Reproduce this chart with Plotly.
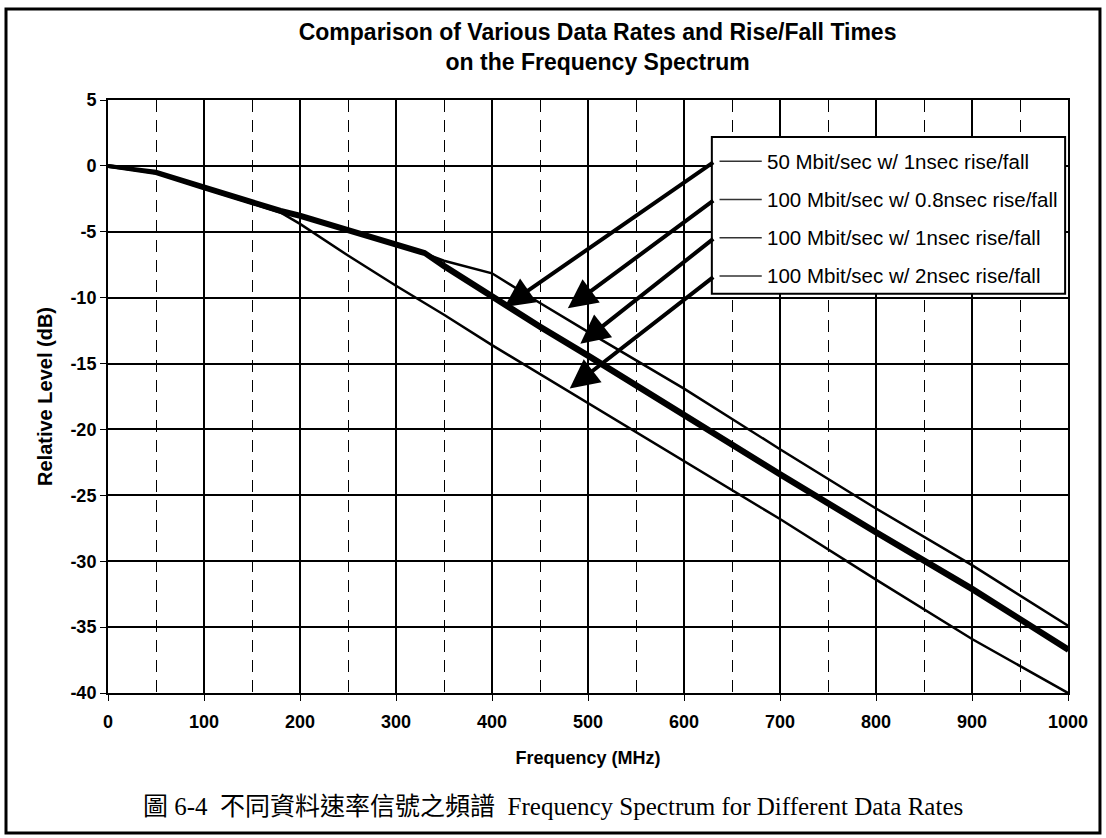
import plotly.graph_objects as go

############################# DATA ##############################################

freq_MHz = [0, 50, 100, 150, 180, 200, 250, 300, 330, 350, 400, 450, 500, 600, 700, 800, 900, 1000]

level_50M_1ns = [0, -0.45, -1.55, -2.7, -3.35, -3.7, -4.8, -5.85, -6.55, -7.5, -9.8, -12.1, -14.3, -18.8, -23.3, -27.7, -32.0, -36.6]
level_100M_08ns = [0, -0.5, -1.65, -2.8, -3.45, -3.8, -4.9, -5.95, -6.65, -7.2, -8.15, -10.4, -12.6, -16.9, -21.5, -26.0, -30.3, -34.9]
level_100M_1ns = [0, -0.55, -1.7, -2.85, -3.5, -3.86, -4.95, -6.0, -6.7, -7.7, -10.0, -12.3, -14.5, -19.0, -23.5, -27.9, -32.2, -36.8]
level_100M_2ns = [0, -0.55, -1.7, -2.85, -3.55, -4.4, -6.8, -9.1, -10.4, -11.3, -13.6, -15.8, -18.0, -22.4, -26.8, -31.4, -35.9, -40.0]

series_labels = [
    "50 Mbit/sec w/ 1nsec rise/fall",
    "100 Mbit/sec w/ 0.8nsec rise/fall",
    "100 Mbit/sec w/ 1nsec rise/fall",
    "100 Mbit/sec w/ 2nsec rise/fall",
]

# where each callout arrow points (freq, level)
arrow_tip_freq = [413, 479, 492, 481]
arrow_tip_level = [-10.7, -10.8, -13.5, -16.9]

y_tick_vals = [5, 0, -5, -10, -15, -20, -25, -30, -35, -40]
y_tick_text = ["5", "0", "-5", "-10", "-15", "-20", "-25", "-30", "-35", "-40"]

title_text = "Comparison of Various Data Rates and Rise/Fall Times<br>on the Frequency Spectrum"
caption_text = "圖 6-4  不同資料速率信號之頻譜  Frequency Spectrum for Different Data Rates"

############################# FIGURE ############################################

sans = "Liberation Sans, Arial, sans-serif"

fig = go.Figure()

fig.add_trace(go.Scatter(x=freq_MHz, y=level_50M_1ns, mode="lines",
                         line=dict(color="black", width=4), name=series_labels[0]))
fig.add_trace(go.Scatter(x=freq_MHz, y=level_100M_08ns, mode="lines",
                         line=dict(color="black", width=2.5), name=series_labels[1]))
fig.add_trace(go.Scatter(x=freq_MHz, y=level_100M_1ns, mode="lines",
                         line=dict(color="black", width=4), name=series_labels[2]))
fig.add_trace(go.Scatter(x=freq_MHz, y=level_100M_2ns, mode="lines",
                         line=dict(color="black", width=2.5), name=series_labels[3]))

fig.update_layout(
    width=1106,
    height=838,
    paper_bgcolor="white",
    plot_bgcolor="white",
    showlegend=False,
    margin=dict(l=108, r=38, t=100, b=145),
    font=dict(family=sans, color="black"),
    title=dict(
        text="<b>" + title_text + "</b>",
        font=dict(size=23, family=sans, color="black"),
        x=0.51,
        xref="paper",
        xanchor="center",
        y=0.952,
        yref="container",
        yanchor="top",
    ),
)

fig.update_xaxes(
    range=[0, 1000],
    tick0=0,
    dtick=100,
    showgrid=True,
    gridcolor="black",
    gridwidth=1.5,
    minor=dict(tick0=0, dtick=50, showgrid=True, gridcolor="black", gridwidth=1.3, griddash="12px,8px"),
    ticks="outside",
    ticklen=6,
    tickcolor="black",
    tickfont=dict(size=18, family=sans),
    tickprefix="<b>",
    ticksuffix="</b>",
    ticklabelstandoff=5,
    showline=True,
    linecolor="black",
    linewidth=2,
    mirror=True,
    zeroline=False,
    title=dict(text="<b>Frequency (MHz)</b>", font=dict(size=18, family=sans), standoff=21),
    automargin=False,
)

fig.update_yaxes(
    range=[-40, 5],
    tickmode="array",
    tickvals=y_tick_vals,
    ticktext=["<b>" + t + "</b>" for t in y_tick_text],
    showgrid=True,
    gridcolor="black",
    gridwidth=1.5,
    ticks="outside",
    ticklen=6,
    tickcolor="black",
    tickfont=dict(size=18, family=sans),
    showline=True,
    linecolor="black",
    linewidth=2,
    mirror=True,
    zeroline=False,
    title=dict(text="<b>Relative Level (dB)</b>", font=dict(size=20, family=sans), standoff=12),
    automargin=False,
)

########################## LEGEND BOX + ARROWS ##################################

legend_y = [0.35, -2.55, -5.45, -8.35]

fig.add_shape(type="rect", xref="x", yref="y", x0=629, x1=997, y0=-9.7, y1=2.2,
              fillcolor="white", line=dict(color="black", width=2), layer="above")

for i in range(len(series_labels)):
    fig.add_shape(type="line", xref="x", yref="y", x0=637, x1=681, y0=legend_y[i], y1=legend_y[i],
                  line=dict(color="#333333", width=1.5), layer="above")
    fig.add_annotation(x=684, y=legend_y[i], xref="x", yref="y", text=series_labels[i],
                       showarrow=False, xanchor="left", yanchor="middle",
                       font=dict(size=20.5, family=sans, color="black"))
    fig.add_annotation(x=arrow_tip_freq[i], y=arrow_tip_level[i], xref="x", yref="y",
                       ax=632, ay=legend_y[i], axref="x", ayref="y", text="",
                       showarrow=True, arrowhead=2, arrowsize=1.45, arrowwidth=4,
                       arrowcolor="black")

############################ CAPTION + FRAME ####################################

fig.add_annotation(x=0.4635, y=-0.192, xref="paper", yref="paper", text=caption_text,
                   showarrow=False, xanchor="center", yanchor="middle",
                   font=dict(size=25, family="Liberation Serif, Noto Sans CJK TC, serif", color="black"))

fig.add_shape(type="rect", xref="paper", yref="paper", x0=-0.10625, x1=1.0333, y0=-0.2361, y1=1.1535,
              line=dict(color="black", width=3), fillcolor="rgba(0,0,0,0)", layer="above")

# page body has a default margin, drop it so the figure sits at the top-left corner
fig.write_html("out.html", config={"displayModeBar": False},
               post_script="document.body.style.margin='0';")
